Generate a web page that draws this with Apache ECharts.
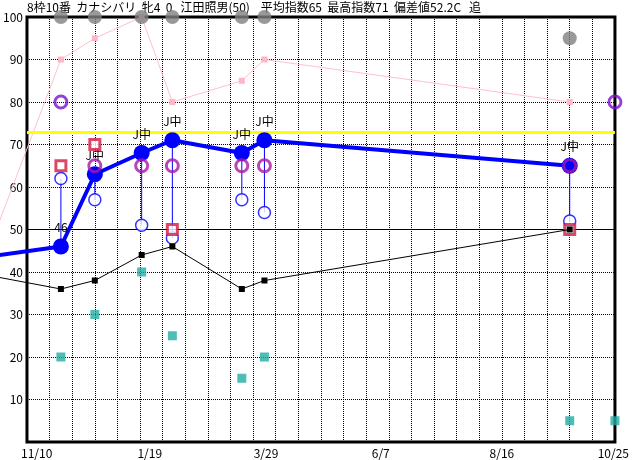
<!DOCTYPE html>
<html>
<head>
<meta charset="utf-8">
<script src="https://cdn.jsdelivr.net/npm/echarts@6/dist/echarts.min.js"></script>
<style>
html, body { margin: 0; padding: 0; background: #fff; }
#chart { width: 632px; height: 460px; }
</style>
</head>
<body>
<div id="chart"></div>
<script>
// 横軸は表示開始日からの日数
const titleText = '8枠10番  カナシバリ  牝4  0   江田照男(50)    平均指数65  最高指数71  偏差値52.2C   追'
const tickDays = [6, 76, 148, 219, 294, 363]
const tickLabels = ['11/10', '1/19', '3/29', '6/7', '8/16', '10/25']

const prevDay = -35          // 前走（左端の外）
const raceDays = [21, 42, 71, 90, 133, 147, 336]
const nextDay = 364          // 今回

const grayVals = [100, 100, 100, 100, 100, 100, 95]
const pinkPrev = 34
const pinkVals = [90, 95, 100, 80, 85, 90, 80]
const blackPrev = 40
const blackVals = [36, 38, 44, 46, 36, 38, 50]
const bluePrev = 43
const blueVals = [46, 63, 68, 71, 68, 71, 65]
const blueLabels = ['46', 'J中', 'J中', 'J中', 'J中', 'J中', 'J中']
const hollowVals = [62, 57, 51, 48, 57, 54, 52]
const purpleVals = [80, null, null, null, null, null, null, 80]   // 各レース + 今回
const magentaVals = [null, 65, 65, 65, 65, 65, 65]
const redVals = [65, 70, null, 50, null, null, 50]
const tealVals = [20, 30, 40, 25, 15, 20, 5, 5]                 // 各レース + 今回
const baseLine = 50
const yellowLine = 73

const font = '"Noto Sans CJK JP", sans-serif'
const withNext = raceDays.concat([nextDay])
const pair = (days, vals) => days.map((d, i) => [d, vals[i]]).filter(p => p[1] != null)

// 前走からの線（グリッドの外まで描く）
const leadStyles = [
    { stroke: '#ffc0cb', lineWidth: 1 },
    { stroke: '#0000ff', lineWidth: 4 },
    { stroke: '#000', lineWidth: 1 }
]
const leadData = [
    [prevDay, pinkPrev, raceDays[0], pinkVals[0], 0],
    [prevDay, bluePrev, raceDays[0], blueVals[0], 1],
    [prevDay, blackPrev, raceDays[0], blackVals[0], 2]
]

const myChart = echarts.init(document.getElementById('chart'))
myChart.setOption({
    animation: false,
    backgroundColor: '#fff',
    title: {
        text: titleText,
        left: 27,
        top: 1,
        z: 0,
        padding: 0,
        textStyle: { fontFamily: font, fontSize: 12, fontWeight: 'normal', color: '#000' }
    },
    grid: {
        left: 26,
        right: 15,
        top: 17,
        bottom: 18,
        show: true,
        borderColor: '#000',
        borderWidth: 3,
        z: 3
    },
    xAxis: [{
        type: 'value',
        min: 0,
        max: 364,
        interval: 14,
        axisLine: { show: false },
        axisTick: { show: false },
        axisLabel: { show: false },
        splitLine: { show: true, lineStyle: { color: '#000', width: 1, type: [1, 1] } }
    }, {
        type: 'value',
        min: 0,
        max: 364,
        position: 'bottom',
        axisLine: { show: false },
        axisTick: { show: false },
        splitLine: { show: false },
        axisLabel: {
            customValues: tickDays,
            formatter: v => tickLabels[tickDays.indexOf(v)] || '',
            margin: 5,
            fontFamily: font,
            fontSize: 12,
            color: '#000'
        }
    }],
    yAxis: {
        type: 'value',
        min: 0,
        max: 100,
        interval: 10,
        axisLine: { show: false },
        axisTick: { show: false },
        axisLabel: {
            formatter: v => v === 0 ? '' : String(v),
            margin: 4,
            fontFamily: font,
            fontSize: 12,
            color: '#000'
        },
        splitLine: { show: true, lineStyle: { color: '#000', width: 1, type: [1, 1] } }
    },
    series: [{
        // 基準線
        type: 'line',
        data: [],
        markLine: {
            silent: true,
            symbol: 'none',
            label: { show: false },
            data: [
                { yAxis: baseLine, lineStyle: { color: '#000', width: 1, type: 'solid' } },
                { yAxis: yellowLine, lineStyle: { color: '#ffff00', width: 3, type: 'solid' } }
            ]
        }
    }, {
        type: 'custom',
        clip: false,
        data: leadData,
        renderItem: (params, api) => {
            const p1 = api.coord([api.value(0), api.value(1)])
            const p2 = api.coord([api.value(2), api.value(3)])
            return {
                type: 'line',
                shape: { x1: p1[0], y1: p1[1], x2: p2[0], y2: p2[1] },
                style: leadStyles[api.value(4)]
            }
        },
        z: 4
    }, {
        type: 'line',
        data: pair(raceDays, pinkVals),
        clip: false,
        symbol: 'rect',
        symbolSize: 6,
        lineStyle: { color: '#ffc0cb', width: 1 },
        itemStyle: { color: '#ffb6c6' },
        z: 4
    }, {
        type: 'scatter',
        data: pair(raceDays, grayVals),
        clip: false,
        symbol: 'circle',
        symbolSize: 14,
        itemStyle: { color: '#808080' },
        z: 5
    }, {
        type: 'scatter',
        data: pair(withNext, tealVals),
        clip: false,
        symbol: 'rect',
        symbolSize: 9,
        itemStyle: { color: '#20aca4' },
        z: 5
    }, {
        type: 'line',
        data: pair(raceDays, blueVals),
        clip: false,
        symbol: 'circle',
        symbolSize: 16,
        lineStyle: { color: '#0000ff', width: 4 },
        itemStyle: { color: '#0000ff' },
        label: {
            show: true,
            position: 'top',
            distance: 5,
            formatter: p => blueLabels[p.dataIndex],
            fontFamily: font,
            fontSize: 12,
            color: '#000'
        },
        z: 6
    }, {
        type: 'custom',
        data: raceDays.map((d, i) => [d, blueVals[i], hollowVals[i]]),
        renderItem: (params, api) => {
            const p1 = api.coord([api.value(0), api.value(1)])
            const p2 = api.coord([api.value(0), api.value(2)])
            return {
                type: 'line',
                shape: { x1: p1[0], y1: p1[1], x2: p2[0], y2: p2[1] },
                style: { stroke: '#0000ff', lineWidth: 1 }
            }
        },
        z: 6
    }, {
        type: 'scatter',
        data: pair(raceDays, hollowVals),
        symbol: 'circle',
        symbolSize: 12,
        itemStyle: { color: '#fff', borderColor: '#0000ff', borderWidth: 1.5 },
        z: 7
    }, {
        type: 'scatter',
        data: pair(raceDays, redVals),
        symbol: 'rect',
        symbolSize: 10,
        itemStyle: { color: '#fff', borderColor: '#d41840', borderWidth: 3 },
        z: 8
    }, {
        type: 'line',
        data: pair(raceDays, blackVals),
        clip: false,
        symbol: 'rect',
        symbolSize: 6,
        lineStyle: { color: '#000', width: 1 },
        itemStyle: { color: '#000' },
        z: 9
    }, {
        type: 'scatter',
        data: pair(raceDays, magentaVals),
        symbol: 'circle',
        symbolSize: 12,
        itemStyle: { color: 'rgba(0,0,0,0)', borderColor: '#a818a8', borderWidth: 3 },
        z: 10
    }, {
        type: 'scatter',
        data: pair(withNext, purpleVals),
        clip: false,
        symbol: 'circle',
        symbolSize: 12,
        itemStyle: { color: 'rgba(0,0,0,0)', borderColor: '#7c10cc', borderWidth: 3 },
        z: 10
    }]
})
</script>
</body>
</html>
